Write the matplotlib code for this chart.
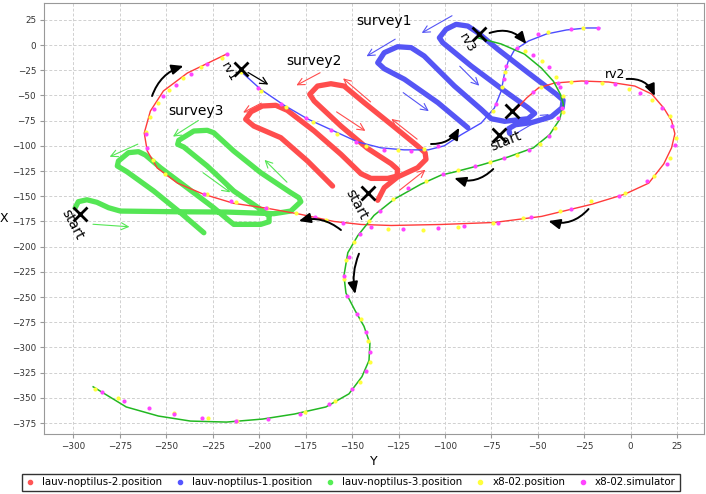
import matplotlib
matplotlib.use("Agg")
import matplotlib.pyplot as plt
from matplotlib.lines import Line2D

# --- thin vehicle tracks (Y = east, X = north) ---
noptilus2_y = [-217.6, -238.7, -251.6, -258.6, -261.9, -260.3, -254.9, -244.0, -230.0, -213.8,
               -195.5, -177.6, -159.8, -145.2, -129.0, -102.0, -73.4, -48.0, -21.0, -3.2,
               9.7, 17.8, 22.0, 23.8, 22.0, 17.8, 11.3, 2.2, -11.9, -26.5, -41.0, -49.7, -56.0, -62.6]
noptilus2_x = [-9.0, -27.8, -45.6, -65.5, -87.3, -105.0, -122.0, -137.0, -148.0, -157.0,
               -162.0, -168.0, -175.0, -178.0, -179.0, -178.0, -176.0, -170.0, -158.0, -148.0,
               -137.0, -118.0, -102.0, -88.0, -75.0, -62.5, -48.6, -40.7, -36.7, -35.7, -37.7, -42.6, -52.5, -65.5]

noptilus1_y = [-210.0, -199.2, -186.8, -173.9, -159.8, -146.9, -134.4, -122.0, -109.0, -100.4, -91.3,
               -80.5, -73.4, -69.7, -68.0, -65.9, -62.6, -55.0, -45.4, -34.6, -23.8, -16.7]
noptilus1_x = [-26.0, -44.0, -59.5, -73.4, -85.3, -96.2, -102.0, -104.0, -104.0, -100.0, -89.0,
               -77.4, -62.5, -45.6, -28.8, -15.9, -5.0, 4.0, 10.9, 14.9, 16.9, 16.9]

noptilus3_y = [-82.0, -69.7, -57.2, -48.0, -41.6, -37.8, -36.2, -38.3, -43.7, -52.4, -65.9, -80.5,
               -95.0, -102.0, -112.9, -127.4, -138.2, -146.9, -152.3, -154.4, -153.3, -148.5, -143.6,
               -140.4, -140.9, -144.7, -151.7, -164.1, -181.0, -198.2, -217.6, -237.0, -254.3, -271.6, -289.4]
noptilus3_x = [7.0, 1.0, -9.0, -23.0, -36.0, -49.0, -59.0, -74.0, -89.0, -102.0, -111.0, -119.0,
               -126.0, -129.0, -138.0, -153.0, -169.0, -189.0, -206.0, -229.0, -246.0, -263.0, -279.0,
               -296.0, -313.0, -329.0, -346.0, -359.0, -366.0, -371.0, -374.0, -373.0, -368.0, -359.0, -339.0]

# --- x8-02 samples ---
sim_y = [-217.6, -227.9, -237.0, -244.6, -251.6, -256.5, -260.8, -260.3, -229.5, -215.4, -196.5, -170.0,
         -155.0, -139.8, -122.6, -103.7, -89.6, -71.3, -53.5, -31.9, -6.5, 8.6, 19.4, 23.8, 22.1, 16.7,
         4.9, -8.6, -23.8, -38.9, -52.4,
         -200.7, -188.1, -175.0, -161.4, -147.9, -133.0, -118.3, -103.8, -72.4, -68.2, -67.0, -49.9, -31.9, -17.4,
         -61.0, -52.5, -44.0, -38.2, -37.0, -39.0, -44.0, -55.0, -68.0, -84.0, -101.0, -120.0, -135.0, -146.0,
         -151.9, -154.4, -152.7, -147.5, -142.7, -140.5, -142.7, -150.2, -162.4, -178.2, -195.3, -212.4,
         -230.7, -245.8, -259.2, -272.6, -284.8]
sim_x = [-9.0, -19.0, -29.0, -40.0, -51.0, -63.0, -88.0, -102.0, -148.0, -155.0, -162.0, -171.0,
         -177.0, -180.5, -182.5, -181.5, -179.5, -176.6, -170.6, -162.7, -149.8, -134.9, -118.0, -99.2, -80.4, -62.5,
         -47.6, -38.7, -36.7, -37.7, -46.6,
         -43.0, -58.8, -72.7, -84.6, -95.9, -103.8, -105.1, -100.2, -58.8, -34.0, -20.8, 10.6, 15.6, 16.6,
         -3.0, -10.0, -22.0, -42.0, -62.0, -72.0, -90.0, -104.0, -112.0, -120.0, -128.0, -142.0, -165.0, -187.0,
         -210.0, -229.5, -248.6, -267.0, -285.0, -304.0, -323.0, -341.0, -356.0, -366.0, -371.0, -373.0,
         -370.0, -366.0, -360.0, -353.0, -344.0]

pos_y = [-210.0, -220.3, -231.1, -240.8, -248.4, -254.3, -258.6, -260.8, -257.0, -250.5, -227.9, -212.7, -196.0,
         -180.3, -164.1, -130.7, -111.8, -92.9, -74.0, -57.8, -38.3, -21.1, -3.2, 12.4, 21.1, 24.3, 21.1,
         11.3, -1.1, -15.7, -31.9, -48.1,
         -199.2, -185.7, -171.3, -157.9, -142.5, -125.5, -111.1, -74.0, -69.5, -67.5, -44.5, -25.6,
         -57.0, -48.0, -40.0, -36.4, -36.5, -41.0, -49.0, -61.0, -76.0, -93.0, -110.0, -128.0, -141.0, -149.0,
         -153.1, -154.4, -145.4, -141.5, -140.5, -145.8, -159.3, -175.1, -211.7, -227.5, -245.8, -275.8, -288.5]
pos_x = [-26.8, -13.0, -22.0, -33.0, -45.0, -58.0, -71.0, -86.0, -114.0, -128.0, -148.0, -156.0, -161.7,
         -166.6, -173.5, -182.5, -183.5, -180.5, -176.6, -171.6, -164.7, -154.8, -146.8, -130.0, -112.1, -92.3, -70.4,
         -54.6, -43.6, -37.7, -36.7, -41.7,
         -45.6, -61.5, -76.0, -88.6, -100.2, -104.4, -103.4, -65.0, -42.0, -27.0, 12.9, 16.6,
         -6.0, -16.0, -32.0, -51.0, -66.0, -82.0, -98.0, -109.0, -116.0, -124.0, -135.0, -153.0, -175.0, -195.0,
         -213.0, -232.5, -272.0, -294.0, -314.0, -334.0, -353.0, -364.0, -373.0, -370.0, -365.0, -350.0, -341.0]

# --- survey patterns (hand drawn) ---
survey1_y = [-65.2, -65.7, -62.1, -53.5, -42.7, -36.9, -36.4, -40.0, -55.3, -71.5, -82.3, -87.7, -94.0,
             -99.4, -103.0, -101.2, -85.9, -67.9, -55.3, -51.7, -55.3, -67.9, -75.1, -80.5, -94.9, -111.2,
             -118.2, -125.5, -132.7, -136.2, -132.7, -121.8, -103.8, -87.7]
survey1_x = [-87.6, -83.0, -79.1, -77.0, -71.1, -62.2, -54.6, -48.9, -27.4, -4.3, 12.2, 18.8, 20.5,
             15.6, 7.2, 2.3, -20.8, -45.6, -62.2, -67.8, -73.1, -75.7, -73.1, -63.8, -40.7, -10.9,
             -2.6, -1.7, -7.6, -17.6, -23.5, -34.0, -57.2, -82.0]

survey2_y = [-136.2, -132.7, -125.5, -114.7, -110.2, -110.7, -114.7, -129.0, -143.5, -154.3, -161.4, -168.6,
             -172.8, -170.4, -156.0, -141.7, -129.0, -125.5, -125.8, -130.8, -139.8, -145.2, -156.0, -170.4,
             -184.9, -191.1, -198.3, -204.4, -207.3, -202.9, -188.4, -174.0, -160.5]
survey2_x = [-154.0, -141.5, -130.9, -121.7, -113.4, -106.8, -100.2, -78.7, -57.2, -40.7, -38.4, -40.7,
             -48.9, -55.6, -80.4, -102.5, -117.7, -123.4, -130.0, -132.3, -132.3, -127.7, -108.4, -85.3,
             -64.8, -59.8, -60.5, -66.2, -73.7, -80.4, -91.9, -115.1, -139.9]

survey3_y = [-299.1, -297.4, -292.8, -287.4, -281.1, -274.8, -244.2, -217.2, -192.1, -183.0, -177.6, -178.6,
             -183.0, -199.2, -213.7, -224.5, -228.0, -235.2, -243.3, -243.9, -240.6, -228.0, -213.7, -199.2,
             -194.7, -194.7, -199.2, -213.7, -216.4, -224.5, -238.8, -253.2, -261.3, -265.0, -270.4, -275.8,
             -276.4, -271.2, -256.8, -242.4, -229.8]
survey3_x = [-161.4, -155.4, -153.5, -156.0, -161.4, -164.7, -165.4, -165.7, -167.3, -164.7, -155.4, -151.5,
             -146.5, -126.6, -105.2, -87.0, -84.6, -85.3, -94.5, -98.5, -101.2, -120.0, -144.8, -163.0,
             -169.6, -175.3, -177.9, -177.9, -173.9, -161.4, -141.6, -121.7, -109.1, -105.8, -106.8, -115.1,
             -120.0, -125.7, -144.8, -166.3, -186.2]

# direction arrows: (tail_y, tail_x, head_y, head_x)
survey1_arrows = [(-94.9, 30.4, -113.8, 10.6), (-125.5, 7.2, -143.5, -12.6), (-123.7, -45.6, -107.5, -67.2),
                  (-93.1, -19.1, -80.5, -42.3), (-62.5, -88.6, -42.7, -67.2)]
survey2_arrows = [(-165.9, -26.2, -181.3, -41.3), (-197.5, -56.4, -210.0, -68.2), (-159.6, -64.8, -141.6, -86.7),
                  (-138.9, -58.2, -156.0, -31.3), (-113.8, -95.1, -130.0, -71.6), (-125.5, -145.6, -109.3, -122.0)]
survey3_arrows = [(-231.5, -73.4, -247.7, -92.3), (-264.0, -97.2, -281.9, -112.0), (-231.5, -125.0, -214.4, -147.8),
                  (-184.0, -138.0, -198.2, -112.0), (-291.0, -177.6, -268.4, -180.5)]
# black travel arrows: (tail_y, tail_x, head_y, head_x, curvature)
travel_arrows = [(-257.7, -50.6, -240.8, -20.8, -0.25), (-156.0, -183.5, -178.7, -174.6, 0.25),
                 (-107.5, -98.2, -92.3, -82.0, 0.3), (-76.0, 11.9, -56.2, 1.0, -0.35),
                 (-2.2, -33.7, 13.0, -50.6, -0.35), (-74.0, -123.0, -95.0, -132.0, -0.3),
                 (-22.7, -162.7, -44.3, -174.6, -0.3), (-146.3, -207.0, -148.3, -247.0, 0.15)]
rv1_arrow = (-207.3, -25.8, -193.8, -40.7)

# X marks
mark_y = [-210.0, -296.4, -141.5, -81.5, -70.7, -63.7]
mark_x = [-24.0, -168.0, -147.0, 11.0, -89.3, -65.5]

# labels: (text, y, x, rotation, size)
labels = [("survey1", -132.8, 23.8, 0, 10), ("survey2", -170.6, -16.0, 0, 10), ("survey3", -234.3, -65.5, 0, 10),
          ("rv1", -216.5, -27.0, -60, 9), ("rv2", -8.6, -28.8, 0, 9), ("rv3", -88.0, 1.5, -60, 9),
          ("start", -300.5, -178.0, -62, 10), ("start", -147.5, -158.0, -62, 10), ("start", -67.0, -95.0, 22, 10)]

c_red, c_blue, c_green = "#ff4d4d", "#5555f5", "#55e655"
c_red_thin, c_blue_thin, c_green_thin = "#ff3b3b", "#4c4cff", "#22b822"
c_yellow, c_magenta = "#ffff3c", "#ff44ff"

fig = plt.figure(figsize=(7.06, 4.94), dpi=100)
ax = fig.add_axes([0.062, 0.1215, 0.9355, 0.8725])

# hand-drawn surveys
ax.plot(survey3_y, survey3_x, color=c_green, lw=3.8, solid_capstyle="round", solid_joinstyle="round", zorder=2)
ax.plot(survey2_y, survey2_x, color=c_red, lw=3.8, solid_capstyle="round", solid_joinstyle="round", zorder=2)
ax.plot(survey1_y, survey1_x, color=c_blue, lw=3.8, solid_capstyle="round", solid_joinstyle="round", zorder=2)

for arrows, col in [(survey1_arrows, c_blue), (survey2_arrows, c_red), (survey3_arrows, c_green)]:
    for ty, tx, hy, hx in arrows:
        ax.annotate("", xy=(hy, hx), xytext=(ty, tx),
                    arrowprops=dict(arrowstyle="->,head_length=0.5,head_width=0.25", color=col, lw=0.8),
                    zorder=3)

# tracks
ax.plot(noptilus2_y, noptilus2_x, color=c_red_thin, lw=1.0, zorder=4)
ax.plot(noptilus1_y, noptilus1_x, color=c_blue_thin, lw=1.0, zorder=4)
ax.plot(noptilus3_y, noptilus3_x, color=c_green_thin, lw=1.1, zorder=4)
ax.scatter(pos_y, pos_x, s=9, color=c_yellow, linewidths=0, zorder=5)
ax.scatter(sim_y, sim_x, s=9, color=c_magenta, linewidths=0, zorder=5)

for ty, tx, hy, hx, rad in travel_arrows:
    ax.annotate("", xy=(hy, hx), xytext=(ty, tx),
                arrowprops=dict(arrowstyle="-|>,head_length=0.7,head_width=0.3", color="black", lw=1.4,
                                connectionstyle="arc3,rad=%s" % rad, shrinkA=0, shrinkB=0),
                zorder=6)
ax.annotate("", xy=(rv1_arrow[2], rv1_arrow[3]), xytext=(rv1_arrow[0], rv1_arrow[1]),
            arrowprops=dict(arrowstyle="->,head_length=0.5,head_width=0.25", color="black", lw=0.9), zorder=6)

ax.plot(mark_y, mark_x, linestyle="none", marker="x", ms=10, mew=2.0, color="black", zorder=7)

for txt, ly, lx, rot, size in labels:
    ax.text(ly, lx, txt, rotation=rot, fontsize=size, ha="center", va="center", zorder=7)

ax.set_xlim(-316, 39.6)
ax.set_ylim(-385.8, 41.7)
ax.set_xticks(range(-300, 26, 25))
ax.set_yticks(range(-375, 26, 25))
ax.tick_params(labelsize=6.3, colors="#333333", length=3, color="#999999", pad=2.5)
ax.grid(True, color="#d0d0d0", linestyle=(0, (3, 2)), lw=0.7)
ax.set_axisbelow(True)
for s in ax.spines.values():
    s.set_color("#999999")
ax.set_xlabel("Y", fontsize=9, labelpad=3)
ax.set_ylabel("X", fontsize=9, rotation=0, ha="center", va="center")
ax.yaxis.set_label_coords(-0.06, 0.5)

names = ["lauv-noptilus-2.position", "lauv-noptilus-1.position", "lauv-noptilus-3.position",
         "x8-02.position", "x8-02.simulator"]
cols = ["#ff5555", "#5555ff", "#55ee55", c_yellow, c_magenta]
handles = [Line2D([], [], linestyle="none", marker="o", ms=3, color=c, mec=c) for c in cols]
leg = fig.legend(handles, names, loc="lower center", bbox_to_anchor=(0.497, 0.002), ncol=5, fontsize=7.4,
                 frameon=True, fancybox=False, edgecolor="black", handlelength=0.8, handletextpad=0.8,
                 columnspacing=1.3, borderpad=0.35, borderaxespad=0.2)
leg.get_frame().set_linewidth(1.0)

fig.savefig("out.png", dpi=100)
